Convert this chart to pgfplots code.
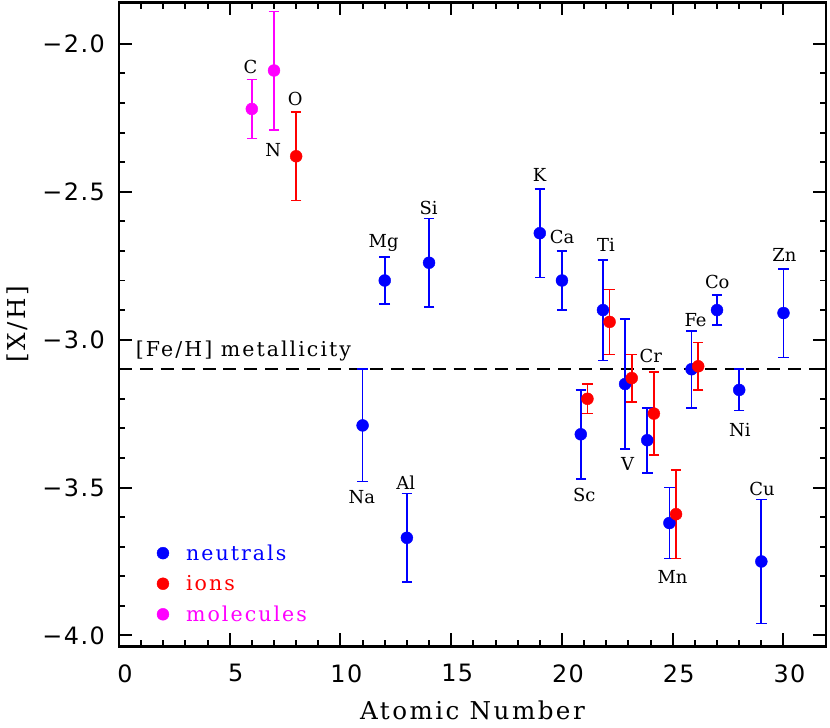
\documentclass[border=0pt]{standalone}
\usepackage{pgfplots}
\pgfplotsset{compat=1.18}
\usepackage{fontspec}
\setmainfont{DejaVu Serif}
\newfontfamily\labfont[LetterSpace=10]{DejaVu Serif}
\newfontfamily\tickfont[LetterSpace=6]{DejaVu Sans}
\definecolor{cblue}{rgb}{0,0,1}
\definecolor{cred}{rgb}{1,0,0}
\definecolor{cmag}{rgb}{1,0,1}

\pgfplotstableread{
x      y      e
11     -3.29  0.19
12     -2.80  0.08
13     -3.67  0.15
14     -2.74  0.15
19     -2.64  0.15
20     -2.80  0.10
20.85  -3.32  0.15
21.85  -2.90  0.17
22.85  -3.15  0.22
23.85  -3.34  0.11
24.85  -3.62  0.12
25.85  -3.10  0.13
27     -2.90  0.05
28     -3.17  0.07
29     -3.75  0.21
30     -2.91  0.15
}\neutrals
\pgfplotstableread{
x      y      e
8      -2.38  0.15
21.15  -3.20  0.05
22.15  -2.94  0.11
23.15  -3.13  0.08
24.15  -3.25  0.14
25.15  -3.59  0.15
26.15  -3.09  0.08
}\ions
\pgfplotstableread{
x      y      e
6      -2.22  0.10
7      -2.09  0.20
}\molecules

\begin{document}
\begin{tikzpicture}
\begin{axis}[
  scale only axis, width=710pt, height=646.5pt,
  xmin=0, xmax=31.92, ymin=-4.037, ymax=-1.86,
  xtick={0,5,10,15,20,25,30}, xticklabels={0,5,10,15,20,25,30},
  ytick={-4,-3.5,-3,-2.5,-2}, yticklabels={−4.0,−3.5,−3.0,−2.5,−2.0},
  minor x tick num=4, minor y tick num=4,
  tick align=inside, tick pos=both,
  major tick length=13pt, minor tick length=6.5pt,
  every tick/.style={black, line width=2pt},
  axis line style={line width=2.5pt},
  xticklabel style={font=\tickfont\fontsize{24}{24}\selectfont, inner sep=0pt, anchor=north, yshift=-18pt, xshift=6pt},
  yticklabel style={font=\tickfont\fontsize{24}{24}\selectfont, inner sep=0pt, anchor=east, xshift=-14pt},
  xlabel={Atomic Number}, ylabel={[X/H]},
  xlabel style={font=\labfont\fontsize{24.7}{25}\selectfont, at={(axis description cs:0.5,-0.1137)}, anchor=base, inner sep=0pt},
  ylabel style={font=\labfont\fontsize{24.7}{25}\selectfont, at={(axis description cs:-0.1434,0.5)}, anchor=center, inner sep=0pt},
  legend image code/.code={\fill[#1] (0pt,0pt) circle (6pt);},
  legend cell align=left,
  legend style={draw=none, fill=none, inner sep=0pt, outer sep=0pt,
    row sep=13.8pt, column sep=17pt,
    nodes={inner sep=0pt},
    font=\labfont\fontsize{20.6}{21}\selectfont,
    at={(axis cs:1.71,-3.693)}, anchor=north west},
  err/.style={only marks, mark=*, mark size=6pt, color=#1,
    error bars/.cd, y dir=both, y explicit,
    error bar style={line width=1.7pt, color=#1},
    error mark options={rotate=90, mark size=5.3pt, line width=1.7pt, color=#1}},
]
\addplot[black, line width=2.5pt, dash pattern=on 13pt off 8pt, forget plot]
  coordinates {(0,-3.1) (31.92,-3.1)};
\addplot[forget plot, err=cblue] table[x=x, y=y, y error=e] {\neutrals};
\addplot[forget plot, err=cred] table[x=x, y=y, y error=e] {\ions};
\addplot[forget plot, err=cmag] table[x=x, y=y, y error=e] {\molecules};
\addlegendimage{cblue}
\addlegendentry{\textcolor{cblue}{neutrals}}
\addlegendimage{cred}
\addlegendentry{\textcolor{cred}{ions}}
\addlegendimage{cmag}
\addlegendentry{\textcolor{cmag}{molecules}}

\node[font=\labfont\fontsize{20.6}{21}\selectfont, anchor=west, inner sep=0pt] at (axis cs:0.76,-3.04) {[Fe/H] metallicity};

\begin{scope}[every node/.style={font=\fontsize{18}{18}\selectfont, anchor=base, inner sep=0pt, yshift=-6.5pt}]
\node at (axis cs:5.94,-2.077) {C};
\node at (axis cs:6.96,-2.358) {N};
\node at (axis cs:7.96,-2.186) {O};
\node at (axis cs:11.95,-2.668) {Mg};
\node at (axis cs:13.98,-2.555) {Si};
\node at (axis cs:18.99,-2.445) {K};
\node at (axis cs:20.01,-2.652) {Ca};
\node at (axis cs:21.99,-2.679) {Ti};
\node at (axis cs:10.97,-3.533) {Na};
\node at (axis cs:12.95,-3.486) {Al};
\node at (axis cs:21.01,-3.524) {Sc};
\node at (axis cs:22.96,-3.422) {V};
\node at (axis cs:24.01,-3.054) {Cr};
\node at (axis cs:24.99,-3.802) {Mn};
\node at (axis cs:26.03,-2.932) {Fe};
\node at (axis cs:27.01,-2.805) {Co};
\node at (axis cs:28.03,-3.304) {Ni};
\node at (axis cs:30.04,-2.713) {Zn};
\node at (axis cs:29.03,-3.504) {Cu};
\end{scope}
\coordinate (LL) at (rel axis cs:0,0);
\coordinate (UR) at (rel axis cs:1,1);
\end{axis}
\pgfresetboundingbox
\useasboundingbox ([shift={(-119.4pt,-81pt)}]LL) rectangle ([shift={(4pt,2.5pt)}]UR);
\end{tikzpicture}
\end{document}
